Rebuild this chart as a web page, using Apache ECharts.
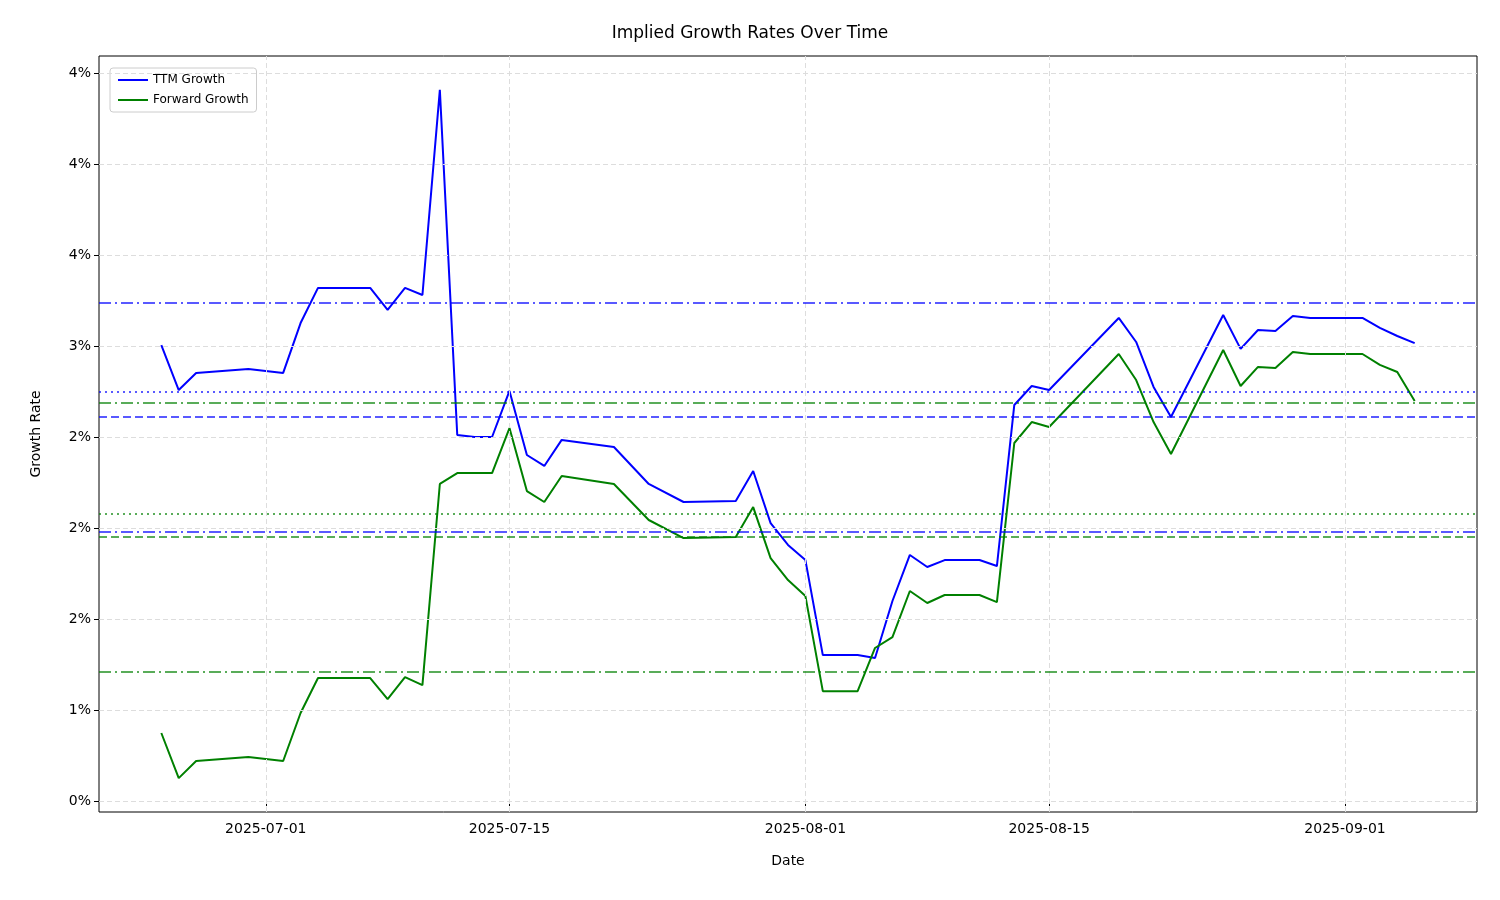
<!DOCTYPE html>
<html><head><meta charset="utf-8">
<script src="https://cdn.jsdelivr.net/npm/echarts@6/dist/echarts.min.js"></script>
<style>html,body{margin:0;padding:0;background:#fff}#c{width:1500px;height:900px}</style>
</head><body><div id="c"></div>
<script>
const dates = ["2025-06-25","2025-06-26","2025-06-27","2025-06-30","2025-07-02","2025-07-03","2025-07-04","2025-07-07","2025-07-08","2025-07-09","2025-07-10","2025-07-11","2025-07-12","2025-07-13","2025-07-14","2025-07-15","2025-07-16","2025-07-17","2025-07-18","2025-07-21","2025-07-23","2025-07-25","2025-07-28","2025-07-29","2025-07-30","2025-07-31","2025-08-01","2025-08-02","2025-08-04","2025-08-05","2025-08-06","2025-08-07","2025-08-08","2025-08-09","2025-08-11","2025-08-12","2025-08-13","2025-08-14","2025-08-15","2025-08-19","2025-08-20","2025-08-21","2025-08-22","2025-08-25","2025-08-26","2025-08-27","2025-08-28","2025-08-29","2025-08-30","2025-09-02","2025-09-03","2025-09-04","2025-09-05"];
const ttm = [2.505,2.258,2.352,2.374,2.352,2.626,2.819,2.819,2.698,2.819,2.78,3.907,2.011,2.0,2.0,2.253,1.901,1.841,1.984,1.945,1.742,1.643,1.648,1.813,1.527,1.407,1.324,0.802,0.802,0.786,1.099,1.352,1.286,1.324,1.324,1.291,2.176,2.28,2.258,2.654,2.522,2.275,2.11,2.67,2.484,2.588,2.582,2.665,2.654,2.654,2.599,2.555,2.516];
const fwd = [0.374,0.126,0.22,0.242,0.22,0.484,0.676,0.676,0.56,0.681,0.637,1.742,1.802,1.802,1.802,2.049,1.703,1.643,1.786,1.742,1.544,1.445,1.451,1.615,1.335,1.214,1.126,0.604,0.604,0.841,0.901,1.154,1.088,1.132,1.132,1.093,1.967,2.082,2.055,2.456,2.313,2.082,1.907,2.478,2.28,2.385,2.379,2.467,2.456,2.456,2.396,2.357,2.198];
const ttmRefs = [[2.742,[12,4,2,4]],[2.253,[2,4]],[2.110,[8,4]],[1.484,[12,4,2,4]]];
const fwdRefs = [[2.187,[12,4,2,4]],[1.577,[2,4]],[1.451,[8,4]],[0.709,[12,4,2,4]]];
const yTicks = [0,0.5,1,1.5,2,2.5,3,3.5,4];
const yLabels = ["0%","1%","2%","2%","2%","3%","4%","4%","4%"];
const xTicks = ["2025-07-01","2025-07-15","2025-08-01","2025-08-15","2025-09-01"];

const DAY = 86400e3;
const d = s => Math.round(new Date(s+"T00:00:00Z").getTime()/DAY);
const xTickVals = xTicks.map(d);
const grid = {lineStyle:{color:'#dddddd',type:[5,3],width:1}};
const refLines = (refs,color)=>refs.map(([v,p])=>({yAxis:v,lineStyle:{color:color,type:p,width:1.8}}));
const chart = echarts.init(document.getElementById('c'));
chart.setOption({
  animation:false,
  textStyle:{fontFamily:'DejaVu Sans'},
  title:{text:'Implied Growth Rates Over Time',left:'center',top:20,textStyle:{fontSize:17,fontWeight:'normal',color:'#000',fontFamily:'DejaVu Sans'}},
  grid:{left:99,right:23,top:56,bottom:88,show:true,borderColor:'#000',borderWidth:1},
  legend:{left:110,top:68,orient:'vertical',itemGap:8,itemWidth:30,itemHeight:2,backgroundColor:'#fff',borderColor:'#ccc',borderWidth:1,borderRadius:3,padding:[6,8],
    textStyle:{fontSize:12,color:'#000'},data:[{name:'TTM Growth',icon:'rect'},{name:'Forward Growth',icon:'rect'}]},
  xAxis:{type:'value',min:d("2025-06-21")+0.42,max:d("2025-09-08")+0.58,
    name:'Date',nameLocation:'middle',nameGap:42,nameTextStyle:{fontSize:14,color:'#000'},
    axisLine:{show:false},splitLine:{show:false},
    axisTick:{show:true,customValues:xTickVals,length:5,lineStyle:{color:'#000'}},
    axisLabel:{customValues:xTickVals,fontSize:14,color:'#000',margin:10,
      formatter:v=>new Date(Math.round(v)*DAY).toISOString().slice(0,10)}},
  yAxis:{type:'value',min:-0.06,max:4.093,
    name:'Growth Rate',nameLocation:'middle',nameGap:56,nameTextStyle:{fontSize:14,color:'#000'},
    axisLine:{show:false},splitLine:{show:false},
    axisTick:{show:true,customValues:yTicks,length:5,lineStyle:{color:'#000'}},
    axisLabel:{customValues:yTicks,fontSize:14,color:'#000',formatter:v=>{const i=yTicks.findIndex(x=>Math.abs(x-v)<1e-6);return i>=0?yLabels[i]:'';}}},
  series:[
    {type:'line',name:'grid',silent:true,data:[],markLine:{silent:true,symbol:'none',label:{show:false},
      data:[...yTicks.map(v=>({yAxis:v,...grid})),...xTickVals.map(x=>({xAxis:x,...grid}))]}},
    {type:'line',name:'TTM Growth',data:dates.map((s,i)=>[d(s),ttm[i]]),showSymbol:false,lineStyle:{color:'#0000ff',width:2},itemStyle:{color:'#0000ff'},
      markLine:{silent:true,symbol:'none',label:{show:false},data:refLines(ttmRefs,'rgba(0,0,255,0.65)')}},
    {type:'line',name:'Forward Growth',data:dates.map((s,i)=>[d(s),fwd[i]]),showSymbol:false,lineStyle:{color:'#008000',width:2},itemStyle:{color:'#008000'},
      markLine:{silent:true,symbol:'none',label:{show:false},data:refLines(fwdRefs,'rgba(0,128,0,0.65)')}}
  ]
});
</script></body></html>
